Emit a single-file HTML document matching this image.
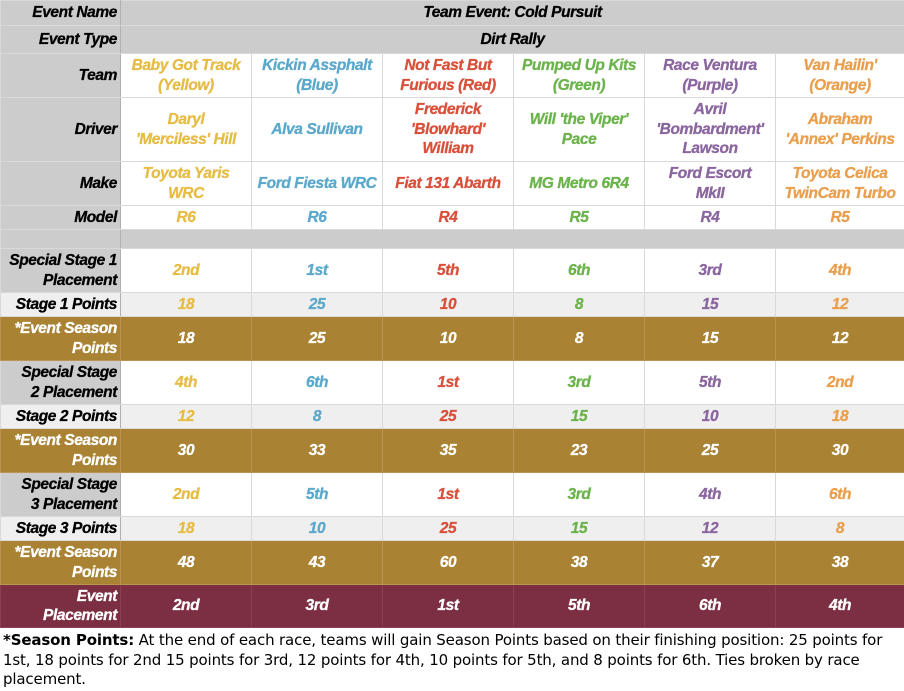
<!DOCTYPE html>
<html><head><style>
body{margin:0;width:904px;height:691px;background:#fff;overflow:hidden;font-family:"Liberation Sans",sans-serif}
table{border-collapse:collapse;table-layout:fixed;width:904px;position:absolute;left:0;top:0}
td{border:1px solid #d9d9d9;padding:0 2px;font-weight:bold;font-style:italic;font-size:15.5px;line-height:19.5px;text-align:center;letter-spacing:-0.4px;overflow:hidden;white-space:nowrap;-webkit-text-stroke:0.3px}
td.h{background:#cccccc;color:#000;text-align:right;padding-right:3px;border-right:1px solid #b0b0b0}
tr.g td{background:#cccccc}
tr.l td{background:#efefef}
tr.gold td{background:#a98333;color:#fff;border-color:#b89550}
tr.mar td{background:#7c2f43;color:#fff;border-color:#8c4053}
tr.gold td:first-child,tr.mar td:first-child{text-align:right;padding-right:3px}
.y{color:#e6bc45}.b{color:#5aa8cb}.r{color:#d8503a}.gr{color:#6bb34b}.p{color:#8a659e}.o{color:#e99f4d}
.foot{position:absolute;left:3px;top:631px;width:900px;font-family:"DejaVu Sans",sans-serif;font-size:15px;line-height:19.5px;color:#000;letter-spacing:-0.15px;white-space:nowrap}
</style></head><body>
<table>
<colgroup><col style="width:120px"><col style="width:131px"><col style="width:131px"><col style="width:131px"><col style="width:131px"><col style="width:131px"><col style="width:129px"></colgroup>
<tr class="g" style="height:25px"><td class="h">Event Name</td><td colspan="6">Team Event: Cold Pursuit</td></tr>
<tr class="g" style="height:28px"><td class="h">Event Type</td><td colspan="6">Dirt Rally</td></tr>
<tr style="height:44px"><td class="h">Team</td><td class="y">Baby Got Track<br>(Yellow)</td><td class="b">Kickin Assphalt<br>(Blue)</td><td class="r">Not Fast But<br>Furious (Red)</td><td class="gr">Pumped Up Kits<br>(Green)</td><td class="p">Race Ventura<br>(Purple)</td><td class="o">Van Hailin'<br>(Orange)</td></tr>
<tr style="height:64px"><td class="h">Driver</td><td class="y">Daryl<br>'Merciless' Hill</td><td class="b">Alva Sullivan</td><td class="r">Frederick<br>'Blowhard'<br>William</td><td class="gr">Will 'the Viper'<br>Pace</td><td class="p">Avril<br>'Bombardment'<br>Lawson</td><td class="o">Abraham<br>'Annex' Perkins</td></tr>
<tr style="height:44px"><td class="h">Make</td><td class="y">Toyota Yaris<br>WRC</td><td class="b">Ford Fiesta WRC</td><td class="r">Fiat 131 Abarth</td><td class="gr">MG Metro 6R4</td><td class="p">Ford Escort<br>MkII</td><td class="o">Toyota Celica<br>TwinCam Turbo</td></tr>
<tr style="height:24px"><td class="h">Model</td><td class="y">R6</td><td class="b">R6</td><td class="r">R4</td><td class="gr">R5</td><td class="p">R4</td><td class="o">R5</td></tr>
<tr class="g" style="height:19px"><td class="h"></td><td colspan="6"></td></tr>
<tr style="height:44px"><td class="h">Special Stage 1<br>Placement</td><td class="y">2nd</td><td class="b">1st</td><td class="r">5th</td><td class="gr">6th</td><td class="p">3rd</td><td class="o">4th</td></tr>
<tr class="l" style="height:24px"><td class="h">Stage 1 Points</td><td class="y">18</td><td class="b">25</td><td class="r">10</td><td class="gr">8</td><td class="p">15</td><td class="o">12</td></tr>
<tr class="gold" style="height:44px"><td>*Event Season<br>Points</td><td>18</td><td>25</td><td>10</td><td>8</td><td>15</td><td>12</td></tr>
<tr style="height:44px"><td class="h">Special Stage<br>2 Placement</td><td class="y">4th</td><td class="b">6th</td><td class="r">1st</td><td class="gr">3rd</td><td class="p">5th</td><td class="o">2nd</td></tr>
<tr class="l" style="height:24px"><td class="h">Stage 2 Points</td><td class="y">12</td><td class="b">8</td><td class="r">25</td><td class="gr">15</td><td class="p">10</td><td class="o">18</td></tr>
<tr class="gold" style="height:44px"><td>*Event Season<br>Points</td><td>30</td><td>33</td><td>35</td><td>23</td><td>25</td><td>30</td></tr>
<tr style="height:44px"><td class="h">Special Stage<br>3 Placement</td><td class="y">2nd</td><td class="b">5th</td><td class="r">1st</td><td class="gr">3rd</td><td class="p">4th</td><td class="o">6th</td></tr>
<tr class="l" style="height:24px"><td class="h">Stage 3 Points</td><td class="y">18</td><td class="b">10</td><td class="r">25</td><td class="gr">15</td><td class="p">12</td><td class="o">8</td></tr>
<tr class="gold" style="height:44px"><td>*Event Season<br>Points</td><td>48</td><td>43</td><td>60</td><td>38</td><td>37</td><td>38</td></tr>
<tr class="mar" style="height:43px"><td>Event<br>Placement</td><td>2nd</td><td>3rd</td><td>1st</td><td>5th</td><td>6th</td><td>4th</td></tr>
</table>
<div class="foot"><b>*Season Points:</b> At the end of each race, teams will gain Season Points based on their finishing position: 25 points for<br>1st, 18 points for 2nd 15 points for 3rd, 12 points for 4th, 10 points for 5th, and 8 points for 6th. Ties broken by race<br>placement.</div>
</body></html>
